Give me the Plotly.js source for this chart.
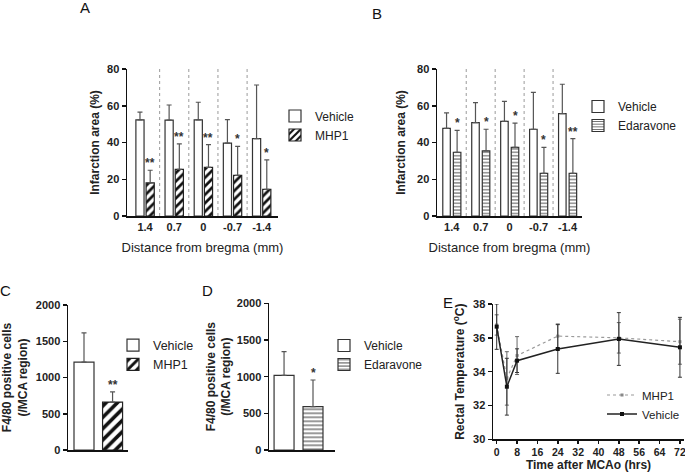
<!DOCTYPE html>
<html>
<head>
<meta charset="utf-8">
<script src="https://cdn.plot.ly/plotly-3.0.1.min.js"></script>
<style>html,body{margin:0;padding:0;background:#fff;}#chart{width:685px;height:472px;}</style>
</head>
<body>
<div id="chart"></div>
<script>
// ---------- DATA ----------
// Panels A & B: infarction area by distance from bregma
const distances = ['1.4', '0.7', '0', '-0.7', '-1.4'];
const aVehicle = [52.3, 52.2, 52.3, 39.7, 42.1];
const aVehicleErr = [4.2, 8.2, 9.6, 12.7, 29.2];
const aMHP1 = [18.0, 25.4, 26.5, 22.1, 14.5];
const aMHP1Err = [6.9, 13.8, 12.3, 15.8, 16.0];
const aStars = ['**', '**', '**', '*', '*'];

const bVehicle = [47.7, 50.8, 51.5, 47.2, 55.7];
const bVehicleErr = [8.4, 10.9, 10.9, 20.1, 16.0];
const bEdaravone = [34.7, 35.4, 37.4, 23.2, 23.2];
const bEdaravoneErr = [11.9, 11.8, 13.1, 14.2, 18.9];
const bStars = ['*', '*', '*', '*', '**'];

// Panels C & D: F4/80 positive cells
const cGroups = ['Vehicle', 'MHP1'];
const cMeans = [1212, 661];
const cErrs = [404, 142];
const cStar = '**';

const dGroups = ['Vehicle', 'Edaravone'];
const dMeans = [1018, 590];
const dErrs = [322, 364];
const dStar = '*';

// Panel E: rectal temperature over time
const timeHrs = [0, 4, 8, 24, 48, 72];
const eMHP1 = [36.76, 33.6, 34.95, 36.1, 36.0, 35.77];
const eMHP1Err = [0.6, 1.58, 1.12, 0.72, 0.9, 1.33];
const eVehicle = [36.66, 33.11, 34.65, 35.34, 35.93, 35.44];
const eVehicleErr = [1.34, 1.68, 0.7, 1.44, 1.56, 1.77];

// ---------- STYLE ----------
const FONT = 'Liberation Sans, Arial, Helvetica, sans-serif';
const W = 685, H = 472;
const px = v => v / W;
const py = v => 1 - v / H;
const zeros = arr => arr.map(() => 0);
const INK = '#222';

const vehicleMarker = {color: '#ffffff', line: {color: '#333', width: 1.2}};
const hatchMarker = (size) => ({color: '#ffffff', line: {color: '#222', width: 1.2},
  pattern: {shape: '/', fgcolor: '#111', bgcolor: '#ffffff', size: size, solidity: 0.45}});
const stripeMarker = (size) => ({color: '#ffffff', line: {color: '#333', width: 1.2},
  pattern: {shape: '-', fgcolor: '#555', bgcolor: '#ffffff', size: size, solidity: 0.3}});
const errStyle = (arr) => ({type: 'data', array: arr, arrayminus: zeros(arr), symmetric: false,
  color: '#555', thickness: 1.2, width: 2.5});

const traces = [];
// A
traces.push({type: 'bar', x: distances, y: aVehicle, name: 'Vehicle', xaxis: 'x', yaxis: 'y', legend: 'legend',
  width: 0.28, offset: -0.315, marker: vehicleMarker, error_y: errStyle(aVehicleErr), hoverinfo: 'skip'});
traces.push({type: 'bar', x: distances, y: aMHP1, name: 'MHP1', xaxis: 'x', yaxis: 'y', legend: 'legend',
  width: 0.28, offset: 0.035, marker: hatchMarker(6), error_y: errStyle(aMHP1Err), hoverinfo: 'skip'});
// B
traces.push({type: 'bar', x: distances, y: bVehicle, name: 'Vehicle', xaxis: 'x2', yaxis: 'y2', legend: 'legend2',
  width: 0.26, offset: -0.31, marker: vehicleMarker, error_y: errStyle(bVehicleErr), hoverinfo: 'skip'});
traces.push({type: 'bar', x: distances, y: bEdaravone, name: 'Edaravone', xaxis: 'x2', yaxis: 'y2', legend: 'legend2',
  width: 0.26, offset: 0.055, marker: stripeMarker(3.4), error_y: errStyle(bEdaravoneErr), hoverinfo: 'skip'});
// C
traces.push({type: 'bar', x: [cGroups[0]], y: [cMeans[0]], name: cGroups[0], xaxis: 'x3', yaxis: 'y3', legend: 'legend3',
  width: 0.7, offset: -0.35, marker: vehicleMarker, error_y: errStyle([cErrs[0]]), hoverinfo: 'skip'});
traces.push({type: 'bar', x: [cGroups[1]], y: [cMeans[1]], name: cGroups[1], xaxis: 'x3', yaxis: 'y3', legend: 'legend3',
  width: 0.7, offset: -0.35, marker: hatchMarker(8), error_y: errStyle([cErrs[1]]), hoverinfo: 'skip'});
// D
traces.push({type: 'bar', x: [dGroups[0]], y: [dMeans[0]], name: dGroups[0], xaxis: 'x4', yaxis: 'y4', legend: 'legend4',
  width: 0.69, offset: -0.345, marker: vehicleMarker, error_y: errStyle([dErrs[0]]), hoverinfo: 'skip'});
traces.push({type: 'bar', x: [dGroups[1]], y: [dMeans[1]], name: dGroups[1], xaxis: 'x4', yaxis: 'y4', legend: 'legend4',
  width: 0.69, offset: -0.345, marker: stripeMarker(4), error_y: errStyle([dErrs[1]]), hoverinfo: 'skip'});
// E
traces.push({type: 'scatter', mode: 'lines+markers', x: timeHrs, y: eMHP1, name: 'MHP1', xaxis: 'x5', yaxis: 'y5', legend: 'legend5',
  line: {color: '#9a9a9a', width: 1.2, dash: 'dot'}, marker: {symbol: 'square', size: 3, color: '#888'},
  error_y: {type: 'data', array: eMHP1Err, color: '#666', thickness: 1, width: 2}, cliponaxis: false, hoverinfo: 'skip'});
traces.push({type: 'scatter', mode: 'lines+markers', x: timeHrs, y: eVehicle, name: 'Vehicle', xaxis: 'x5', yaxis: 'y5', legend: 'legend5',
  line: {color: '#222', width: 1.5}, marker: {symbol: 'square', size: 4, color: '#111'},
  error_y: {type: 'data', array: eVehicleErr, color: '#333', thickness: 1, width: 2}, cliponaxis: false, hoverinfo: 'skip'});

// ---------- AXES ----------
const tickFont = {family: FONT, size: 11, color: INK, weight: 'bold'};
const yTitleFont = {family: FONT, size: 12, color: INK, weight: 'bold'};
function yAx(domain, anchor, range, dtick, title, standoff) {
  return {domain: domain, anchor: anchor, range: range, dtick: dtick, tick0: range[0],
    showline: true, linecolor: '#111', linewidth: 1.5, ticks: 'outside', ticklen: 4, tickwidth: 1.5, tickcolor: '#111',
    tickfont: tickFont, showgrid: false, zeroline: false, fixedrange: true,
    title: {text: title, font: yTitleFont, standoff: standoff}};
}
function catAx(domain, anchor, cats, range, showLabels, title) {
  const ax = {domain: domain, anchor: anchor, type: 'category', categoryorder: 'array', categoryarray: cats,
    range: range, showline: true, linecolor: '#111', linewidth: 1.5, ticks: '', showticklabels: showLabels,
    tickfont: tickFont, showgrid: false, zeroline: false, fixedrange: true};
  if (title) ax.title = {text: title, font: {family: FONT, size: 13, color: INK}, standoff: 11};
  return ax;
}

const yDomAB = [py(216), py(69)];
const layout = {
  width: W, height: H, margin: {l: 0, r: 0, t: 0, b: 0},
  paper_bgcolor: '#fff', plot_bgcolor: 'rgba(0,0,0,0)',
  font: {family: FONT, color: INK},
  barmode: 'group', showlegend: true,
  xaxis: catAx([px(127), px(278)], 'y', distances, [-0.62, 4.56], true, 'Distance from bregma (mm)'),
  yaxis: yAx(yDomAB, 'x', [0, 80], 20, 'Infarction area (%)', 5),
  xaxis2: catAx([px(437), px(582)], 'y2', distances, [-0.51, 4.5], true, 'Distance from bregma (mm)'),
  yaxis2: yAx(yDomAB, 'x2', [0, 80], 20, 'Infarction area (%)', 9),
  xaxis3: catAx([px(68), px(128)], 'y3', cGroups, [-0.56, 1.54], false, null),
  yaxis3: yAx([py(450), py(305)], 'x3', [0, 2000], 500, 'F4/80 positive cells<br>(/MCA region)', 6),
  xaxis4: catAx([px(269), px(335)], 'y4', dGroups, [-0.52, 1.76], false, null),
  yaxis4: yAx([py(450), py(303.3)], 'x4', [0, 2000], 500, 'F4/80 positive cells<br>(/MCA region)', 3),
  xaxis5: {domain: [px(493), px(684)], anchor: 'y5', range: [-1.45, 73.6], tick0: 0, dtick: 8,
    showline: true, linecolor: '#111', linewidth: 1.5, ticks: 'outside', ticklen: 3, tickwidth: 1.5, tickcolor: '#111',
    tickfont: {family: FONT, size: 10.5, color: INK, weight: 'bold'}, ticklabeloverflow: 'allow',
    showgrid: false, zeroline: false, fixedrange: true,
    title: {text: 'Time after MCAo (hrs)', font: yTitleFont, standoff: 0}},
  yaxis5: yAx([py(439.3), py(304)], 'x5', [30, 38], 2, 'Rectal Temperature (<sup>o</sup>C)', 6),
  shapes: [], annotations: []
};

// legends
function leg(left, top, size) {
  return {x: px(left), y: py(top), xanchor: 'left', yanchor: 'top', bgcolor: 'rgba(0,0,0,0)', borderwidth: 0,
    tracegroupgap: 0, itemwidth: 30, font: {family: FONT, size: size, color: INK}, itemclick: false, itemdoubleclick: false};
}
layout.legend = leg(275, 101.5, 12);
layout.legend2 = leg(578, 92, 12);
layout.legend3 = leg(113, 330.5, 12.5);
layout.legend4 = leg(324, 331, 12);
layout.legend5 = leg(602, 380.5, 11.5);

// dotted dividers between distance groups
[['x', 'y'], ['x2', 'y2']].forEach(([xr, yr]) => {
  for (let i = 1; i < distances.length; i++) {
    layout.shapes.push({type: 'line', xref: xr, yref: yr, x0: i - 0.5, x1: i - 0.5, y0: 0, y1: 80,
      layer: 'below', line: {color: '#9a9a9a', width: 1, dash: 'dot'}});
  }
});

// significance stars
const starFont = {family: FONT, size: 12, color: '#333', weight: 'bold'};
function star(xr, yr, x, y, text) {
  layout.annotations.push({xref: xr, yref: yr, x: x, y: y, text: text, showarrow: false,
    xanchor: 'center', yanchor: 'bottom', font: starFont, yshift: -2});
}
aStars.forEach((s, i) => star('x', 'y', i + 0.035 + 0.14, aMHP1[i] + aMHP1Err[i], s));
bStars.forEach((s, i) => star('x2', 'y2', i + 0.055 + 0.13, bEdaravone[i] + bEdaravoneErr[i], s));
star('x3', 'y3', 1, cMeans[1] + cErrs[1], cStar);
star('x4', 'y4', 1, dMeans[1] + dErrs[1], dStar);

// panel letters
const letterFont = {family: FONT, size: 15, color: '#111'};
[['A', 85, 8], ['B', 377, 13], ['C', 5, 290], ['D', 207, 290], ['E', 448, 302]].forEach(([t, x, y]) => {
  layout.annotations.push({xref: 'paper', yref: 'paper', x: px(x), y: py(y), text: t, showarrow: false,
    xanchor: 'center', yanchor: 'middle', font: letterFont});
});

Plotly.newPlot('chart', traces, layout, {staticPlot: true, displayModeBar: false});
</script>
</body>
</html>
